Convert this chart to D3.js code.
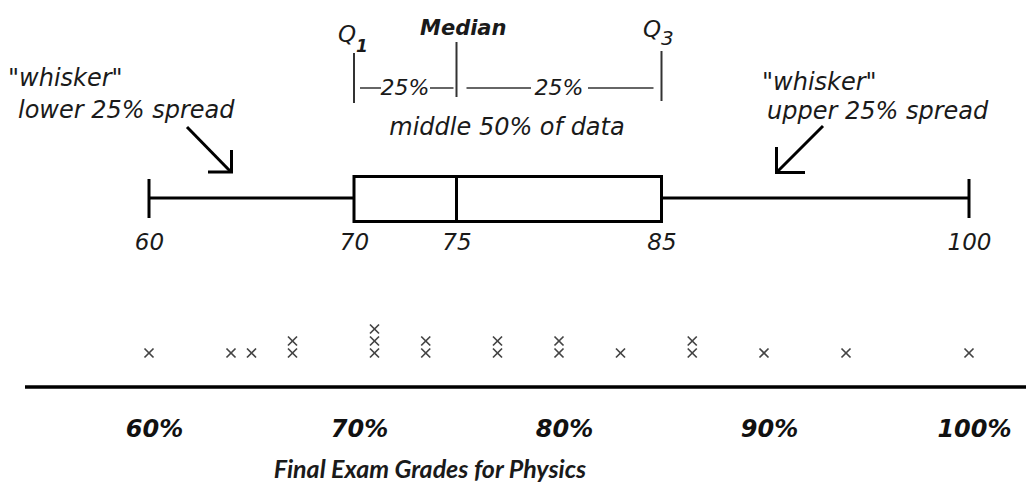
<!DOCTYPE html>
<html>
<head>
<meta charset="utf-8">
<script src="https://cdn.jsdelivr.net/npm/d3@7"></script>
<style>
body { margin: 0; background: #fff; }
text { font-family: "DejaVu Sans", sans-serif; font-style: italic; fill: #1a1a1a; }
</style>
</head>
<body>
<div class="svg"></div>
<script>
// exam grades (each x on the dot plot)
var grades = [60, 64, 65, 67, 67, 71, 71, 71, 73.5, 73.5, 77, 77, 80, 80, 83, 86.5, 86.5, 90, 94, 100];
// min, Q1, median, Q3, max
var fiveNum = [60, 70, 75, 85, 100];
var boxLabels = ["60", "70", "75", "85", "100"];
var pctTicks = [60, 70, 80, 90, 100];
var pctLabels = ["60%", "70%", "80%", "90%", "100%"];
var title = "Final Exam Grades for Physics";

var width = 1026, height = 487;

var svg = d3.select("div.svg")
	.append("svg")
	.attr("width", width)
	.attr("height", height);

var x = d3.scaleLinear()
	.domain([60, 100])
	.range([149, 969]);

var min = fiveNum[0], q1 = fiveNum[1], med = fiveNum[2], q3 = fiveNum[3], max = fiveNum[4];

// ---- box plot ----
var box = svg.append("g")
	.attr("stroke", "#000")
	.attr("stroke-width", 3)
	.attr("fill", "none");

var midY = 198;
box.append("line").attr("x1", x(min)).attr("x2", x(q1)).attr("y1", midY).attr("y2", midY);
box.append("line").attr("x1", x(q3)).attr("x2", x(max)).attr("y1", midY).attr("y2", midY);
box.selectAll("line.cap")
	.data([min, max])
	.enter().append("line")
	.attr("class", "cap")
	.attr("x1", d => x(d)).attr("x2", d => x(d))
	.attr("y1", 179).attr("y2", 218);
box.append("rect")
	.attr("x", x(q1)).attr("y", 176.5)
	.attr("width", x(q3) - x(q1)).attr("height", 45);
box.append("line").attr("x1", x(med)).attr("x2", x(med)).attr("y1", 176.5).attr("y2", 221.5);

var boxAxis = d3.axisBottom(x)
	.tickValues(fiveNum)
	.tickFormat((d, i) => boxLabels[i])
	.tickSize(0)
	.tickPadding(0);

var ba = svg.append("g")
	.attr("transform", "translate(0,250)")
	.call(boxAxis);
ba.select(".domain").remove();
ba.selectAll("text")
	.attr("y", 0).attr("dy", 0)
	.style("font-size", "23px")
	.style("fill", "#1a1a1a");

// ---- annotations ----
var ann = svg.append("g").attr("stroke", "#333").attr("stroke-width", 2);
ann.append("line").attr("x1", x(q1)).attr("x2", x(q1)).attr("y1", 53).attr("y2", 103);
ann.append("line").attr("x1", x(med)).attr("x2", x(med)).attr("y1", 42).attr("y2", 97);
ann.append("line").attr("x1", x(q3)).attr("x2", x(q3)).attr("y1", 51).attr("y2", 101);

var thin = svg.append("g").attr("stroke", "#333").attr("stroke-width", 1.5);
thin.append("line").attr("x1", x(q1) + 6).attr("x2", 381).attr("y1", 88).attr("y2", 88);
thin.append("line").attr("x1", 430).attr("x2", x(med) - 3).attr("y1", 88).attr("y2", 88);
thin.append("line").attr("x1", x(med) + 10).attr("x2", 531).attr("y1", 88).attr("y2", 88);
thin.append("line").attr("x1", 588).attr("x2", x(q3) - 8).attr("y1", 88).attr("y2", 88);

svg.append("text").attr("x", 405).attr("y", 95).attr("text-anchor", "middle")
	.style("font-size", "22px").text("25%");
svg.append("text").attr("x", 559).attr("y", 95).attr("text-anchor", "middle")
	.style("font-size", "22px").text("25%");

var q1t = svg.append("text").attr("x", 338).attr("y", 42).style("font-size", "23px");
q1t.append("tspan").text("Q");
q1t.append("tspan").attr("dy", 10).style("font-size", "17px").style("font-weight", "bold").text("1");

var q3t = svg.append("text").attr("x", 643).attr("y", 37).style("font-size", "23px");
q3t.append("tspan").text("Q");
q3t.append("tspan").attr("dy", 8).style("font-size", "20px").text("3");

svg.append("text").attr("x", 420).attr("y", 35)
	.style("font-size", "21px").style("font-weight", "bold").text("Median");

svg.append("text").attr("x", 507).attr("y", 135).attr("text-anchor", "middle")
	.style("font-size", "24px").text("middle 50% of data");

svg.append("text").attr("x", 8).attr("y", 86).style("font-size", "24px").text("\"whisker\"");
svg.append("text").attr("x", 18).attr("y", 118).style("font-size", "24px").text("lower 25% spread");
svg.append("text").attr("x", 762).attr("y", 90).style("font-size", "24px").text("\"whisker\"");
svg.append("text").attr("x", 767).attr("y", 119).style("font-size", "24px").text("upper 25% spread");

// arrows
var arr = svg.append("g").attr("stroke", "#000").attr("stroke-width", 3).attr("fill", "none");
arr.append("line").attr("x1", 187).attr("y1", 127).attr("x2", 230).attr("y2", 171);
arr.append("path").attr("d", "M208,172H231.5V150");
arr.append("line").attr("x1", 823).attr("y1", 126).attr("x2", 778).attr("y2", 171);
arr.append("path").attr("d", "M805,172.5H776.5V147");

// ---- dot plot ----
var seen = {};
var dots = grades.map(function(g) {
	seen[g] = (seen[g] || 0) + 1;
	return {grade: g, level: seen[g] - 1};
});

var yStack = d3.scaleLinear().domain([0, 1]).range([353, 341]);

svg.append("g")
	.selectAll("path")
	.data(dots)
	.enter().append("path")
	.attr("d", d3.symbol().type(d3.symbolX).size(55))
	.attr("transform", d => "translate(" + x(d.grade) + "," + yStack(d.level) + ")")
	.attr("fill", "none")
	.attr("stroke", "#444")
	.attr("stroke-width", 1.7);

svg.append("line")
	.attr("x1", 25).attr("x2", width)
	.attr("y1", 387).attr("y2", 387)
	.attr("stroke", "#000")
	.attr("stroke-width", 3.5);

var pctAxis = d3.axisBottom(x)
	.tickValues(pctTicks)
	.tickFormat((d, i) => pctLabels[i])
	.tickSize(0)
	.tickPadding(0);

var pa = svg.append("g")
	.attr("transform", "translate(5,437)")
	.call(pctAxis);
pa.select(".domain").remove();
pa.selectAll("text")
	.attr("y", 0).attr("dy", 0)
	.style("font-size", "24px")
	.style("font-weight", "bold")
	.style("fill", "#111");

svg.append("text")
	.attr("x", 430).attr("y", 478)
	.attr("text-anchor", "middle")
	.style("font-family", "Lato, 'DejaVu Sans', sans-serif")
	.style("font-size", "25px")
	.style("font-weight", "bold")
	.text(title);
</script>
</body>
</html>
